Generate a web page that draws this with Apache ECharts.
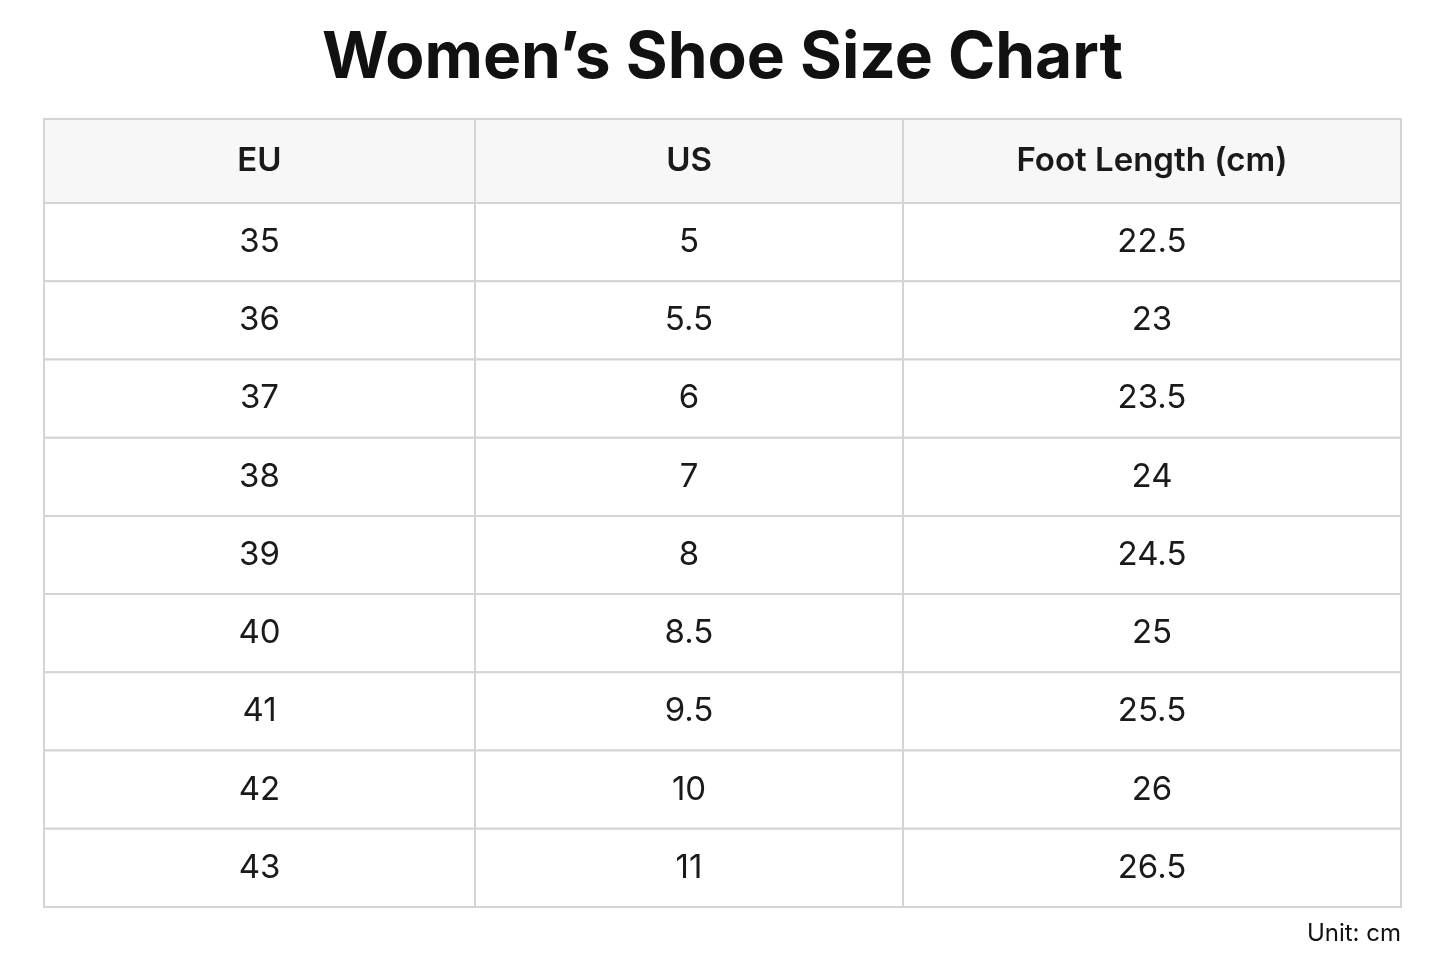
<!DOCTYPE html>
<html><head><meta charset="utf-8">
<script src="https://cdn.jsdelivr.net/npm/echarts@6/dist/echarts.min.js"></script>
<style>html,body{margin:0;padding:0;background:#fff}#c{width:1445px;height:963px}</style>
</head><body><div id="c"></div>
<script>
const headers = ['EU', 'US', 'Foot Length (cm)'];
const eu = ['35','36','37','38','39','40','41','42','43'];
const us = ['5','5.5','6','7','8','8.5','9.5','10','11'];
const footLength = ['22.5','23','23.5','24','24.5','25','25.5','26','26.5'];

// layout (not data)
const colEdges = [0, 431, 859, 1357];
const headerH = 84, rowH = 78.22;
const rowTop = r => r === 0 ? 0 : headerH + (r - 1) * rowH;
const rowBot = r => r === 0 ? headerH : headerH + r * rowH;

const cells = [];
headers.forEach((h, c) => cells.push([c, 0, h]));
eu.forEach((v, i) => {
  cells.push([0, i + 1, v]);
  cells.push([1, i + 1, us[i]]);
  cells.push([2, i + 1, footLength[i]]);
});

const chart = echarts.init(document.getElementById('c'));
chart.setOption({
  backgroundColor: '#fff',
  animation: false,
  title: {
    text: 'Women\u2019s Shoe Size Chart', left: 'center', top: 22,
    textStyle: { fontFamily: 'Inter', fontWeight: 'bold', fontSize: 64, color: '#111' }
  },
  grid: { left: 44, right: 44, top: 119, bottom: 56 },
  xAxis: { type: 'value', min: 0, max: 1357, show: false },
  yAxis: { type: 'value', min: 0, max: headerH + 9 * rowH, inverse: true, show: false },
  graphic: [{
    type: 'text', right: 44, top: 922,
    style: { text: 'Unit: cm', font: '24px Inter', fill: '#111' }
  }],
  series: [{
    type: 'custom',
    data: cells,
    renderItem: (params, api) => {
      const c = api.value(0), r = api.value(1);
      const p0 = api.coord([colEdges[c], rowTop(r)]);
      const p1 = api.coord([colEdges[c + 1], rowBot(r)]);
      const txt = cells[params.dataIndex][2];
      return {
        type: 'group',
        children: [{
          type: 'rect',
          shape: { x: p0[0], y: p0[1], width: p1[0] - p0[0], height: p1[1] - p0[1] },
          style: { fill: r === 0 ? '#f7f7f7' : '#fff', stroke: '#d4d4d4', lineWidth: 2 }
        }, {
          type: 'text',
          style: {
            text: txt, x: (p0[0] + p1[0]) / 2, y: (p0[1] + p1[1]) / 2,
            align: 'center', verticalAlign: 'middle',
            font: (r === 0 ? '600 ' : '400 ') + '33px Inter', fill: '#1a1a1a'
          }
        }]
      };
    }
  }]
});
</script></body></html>
